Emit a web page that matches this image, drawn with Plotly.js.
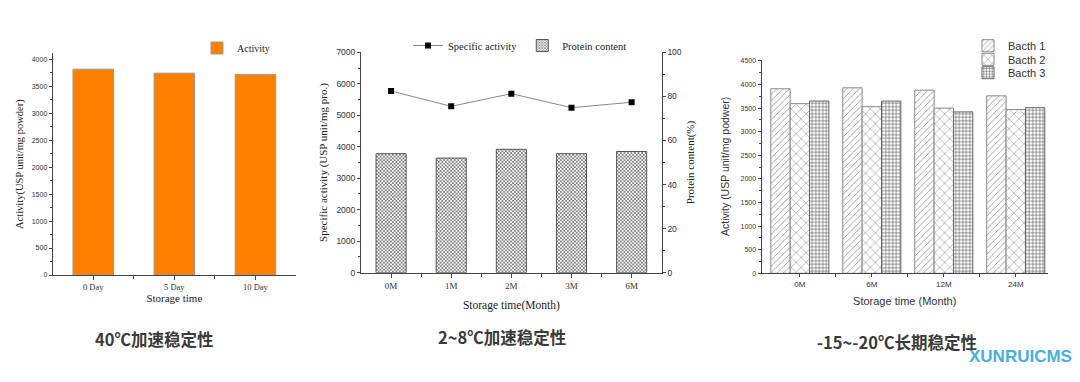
<!DOCTYPE html>
<html>
<head>
<meta charset="utf-8">
<script src="https://cdn.plot.ly/plotly-3.0.1.min.js"></script>
<style>html,body{margin:0;padding:0;background:#fff;}#chart{width:1080px;height:382px;}</style>
</head>
<body>
<div id="chart"></div>
<script>
// ---- Data ----
const days = ["0 Day", "5 Day", "10 Day"];
const activity40 = [3815, 3742, 3716];

const months2 = ["0M", "1M", "2M", "3M", "6M"];
const specificActivity = [5770, 5284, 5686, 5241, 5413];
const proteinContent = [54, 52, 56, 54, 55];

const months3 = ["0M", "6M", "12M", "24M"];
const bach1 = [3910, 3930, 3880, 3760];
const bach2 = [3595, 3530, 3500, 3470];
const bach3 = [3650, 3648, 3420, 3510];

const captions = ["40℃加速稳定性", "2~8℃加速稳定性", "-15~-20℃长期稳定性"];

// ---- Helpers ----
const W = 1080, H = 382;
const px = v => v / W;
const py = v => (H - v) / H;
const serif = "Liberation Serif, Times New Roman, serif";
const sans = "Liberation Sans, Arial, sans-serif";
const idx = a => a.map((_, i) => i);

const axisBase = {
  showline: true, linecolor: "#444", linewidth: 1, showgrid: false, zeroline: false,
  ticks: "outside", tickcolor: "#444", tickwidth: 1, automargin: false, fixedrange: true
};

const data = [
  {
    type: "bar", x: idx(days), y: activity40, name: "Activity", width: 0.5,
    xaxis: "x", yaxis: "y", legend: "legend",
    marker: {color: "#FF8000", line: {color: "#999", width: 1}}
  },
  {
    type: "scatter", mode: "lines+markers", x: idx(months2), y: specificActivity,
    name: "Specific activity", xaxis: "x2", yaxis: "y2", legend: "legend2", legendrank: 1,
    line: {color: "#888", width: 1}, marker: {symbol: "square", size: 6, color: "#000"}
  },
  {
    type: "bar", x: idx(months2), y: proteinContent, name: "Protein content", width: 0.5,
    xaxis: "x2", yaxis: "y3", legend: "legend2", legendrank: 2,
    marker: {color: "#fff", line: {color: "#555", width: 1},
      pattern: {shape: "x", size: 2.5, solidity: 0.5, fgcolor: "#666", bgcolor: "#fff"}}
  },
  {
    type: "bar", x: idx(months3), y: bach1, name: "Bacth 1",
    xaxis: "x3", yaxis: "y4", legend: "legend3",
    marker: {color: "#fff", line: {color: "#888", width: 1},
      pattern: {shape: "/", size: 4.5, solidity: 0.2, fgcolor: "#999", bgcolor: "#fff"}}
  },
  {
    type: "bar", x: idx(months3), y: bach2, name: "Bacth 2",
    xaxis: "x3", yaxis: "y4", legend: "legend4",
    marker: {color: "#fff", line: {color: "#888", width: 1},
      pattern: {shape: "x", size: 7, solidity: 0.15, fgcolor: "#888", bgcolor: "#fff"}}
  },
  {
    type: "bar", x: idx(months3), y: bach3, name: "Bacth 3",
    xaxis: "x3", yaxis: "y4", legend: "legend5",
    marker: {color: "#fff", line: {color: "#666", width: 1},
      pattern: {shape: "+", size: 3.5, solidity: 0.35, fgcolor: "#666", bgcolor: "#fff"}}
  }
];

const leg3 = (y) => ({
  x: px(968), y: py(y), xanchor: "left", yanchor: "middle",
  bgcolor: "rgba(0,0,0,0)", font: {family: sans, size: 11, color: "#333"},
  itemwidth: 30
});

const layout = {
  width: W, height: H,
  margin: {l: 0, r: 0, t: 0, b: 0},
  paper_bgcolor: "#fff", plot_bgcolor: "rgba(0,0,0,0)",
  barmode: "group", bargap: 0.193, bargroupgap: 0,
  showlegend: true,
  xaxis: Object.assign({}, axisBase, {
    domain: [px(52.7), px(296)], anchor: "y", range: [-0.5, 2.5],
    tickmode: "array", tickvals: idx(days), ticktext: days, ticklen: 4,
    minor: {tickvals: [0.5, 1.5], ticks: "outside", ticklen: 3, tickcolor: "#444"},
    tickfont: {family: serif, size: 8.5, color: "#333"},
    title: {text: "Storage time", font: {family: serif, size: 11, color: "#222"}, standoff: 1}
  }),
  yaxis: Object.assign({}, axisBase, {
    domain: [py(275), py(53.3)], anchor: "x", range: [0, 4110],
    tick0: 0, dtick: 500, ticklen: 3,
    minor: {dtick: 250, ticks: "outside", ticklen: 2, tickcolor: "#444"},
    tickfont: {family: sans, size: 7, color: "#333"},
    title: {text: "Activity(USP unit/mg powder)", font: {family: serif, size: 10.5, color: "#222"}, standoff: 6}
  }),
  xaxis2: Object.assign({}, axisBase, {
    domain: [px(361), px(661.7)], anchor: "y2", range: [-0.5, 4.5],
    tickmode: "array", tickvals: idx(months2), ticktext: months2, ticklen: 4,
    minor: {tickvals: [0.5, 1.5, 2.5, 3.5], ticks: "outside", ticklen: 3, tickcolor: "#444"},
    tickfont: {family: serif, size: 9, color: "#333"},
    title: {text: "Storage time(Month)", font: {family: serif, size: 11.5, color: "#222"}, standoff: 11}
  }),
  yaxis2: Object.assign({}, axisBase, {
    domain: [py(272.7), py(52.3)], anchor: "x2", range: [0, 7000],
    tick0: 0, dtick: 1000, ticklen: 3,
    minor: {dtick: 500, ticks: "outside", ticklen: 2, tickcolor: "#444"},
    tickfont: {family: sans, size: 8.5, color: "#333"},
    title: {text: "Specific activity (USP unit/mg pro.)", font: {family: serif, size: 11, color: "#222"}, standoff: 6}
  }),
  yaxis3: Object.assign({}, axisBase, {
    overlaying: "y2", side: "right", anchor: "x2", range: [0, 100],
    tick0: 0, dtick: 20, ticklen: 3,
    minor: {dtick: 10, ticks: "outside", ticklen: 2, tickcolor: "#444"},
    tickfont: {family: sans, size: 8.5, color: "#333"},
    title: {text: "Protein content(%)", font: {family: serif, size: 11, color: "#222"}, standoff: 5}
  }),
  xaxis3: Object.assign({}, axisBase, {
    domain: [px(761.5), px(1048)], anchor: "y4", range: [-0.533, 3.448],
    tickmode: "array", tickvals: idx(months3), ticktext: months3, ticklen: 3,
    minor: {tickvals: [0.5, 1.5, 2.5], ticks: "outside", ticklen: 3, tickcolor: "#444"},
    tickfont: {family: sans, size: 8, color: "#333"},
    title: {text: "Storage time (Month)", font: {family: sans, size: 11, color: "#333"}, standoff: 9}
  }),
  yaxis4: Object.assign({}, axisBase, {
    domain: [py(273.3), py(59.5)], anchor: "x3", range: [0, 4530],
    tick0: 0, dtick: 500, ticklen: 3,
    minor: {dtick: 250, ticks: "outside", ticklen: 2, tickcolor: "#444"},
    tickfont: {family: sans, size: 7, color: "#333"},
    title: {text: "Activity (USP unit/mg podwer)", font: {family: sans, size: 10.5, color: "#333"}, standoff: 8}
  }),
  legend: {
    x: px(197), y: py(48), xanchor: "left", yanchor: "middle",
    bgcolor: "rgba(0,0,0,0)", font: {family: serif, size: 10, color: "#222"},
    itemwidth: 30
  },
  legend2: {
    x: px(408), y: py(45.5), xanchor: "left", yanchor: "middle", orientation: "h",
    bgcolor: "rgba(0,0,0,0)", font: {family: serif, size: 10.5, color: "#222"},
    itemwidth: 30
  },
  legend3: leg3(45.7),
  legend4: leg3(59.3),
  legend5: leg3(72.7),
  annotations: [
    {text: captions[0], x: px(93), y: py(339), xref: "paper", yref: "paper", xanchor: "left", yanchor: "middle",
     showarrow: false, font: {family: "Noto Sans CJK SC", size: 16.5, weight: "bold", color: "#3a3a3a"}},
    {text: captions[1], x: px(436), y: py(337), xref: "paper", yref: "paper", xanchor: "left", yanchor: "middle",
     showarrow: false, font: {family: "Noto Sans CJK SC", size: 16.5, weight: "bold", color: "#3a3a3a"}},
    {text: captions[2], x: px(815), y: py(342), xref: "paper", yref: "paper", xanchor: "left", yanchor: "middle",
     showarrow: false, font: {family: "Noto Sans CJK SC", size: 16.5, weight: "bold", color: "#3a3a3a"}},
    {text: "XUNRUICMS", x: px(1020), y: py(356), xref: "paper", yref: "paper", xanchor: "center", yanchor: "middle",
     showarrow: false, font: {family: "Liberation Sans Narrow, Liberation Sans", size: 17, weight: "bold", color: "#4aaee0"}}
  ]
};

Plotly.newPlot("chart", data, layout, {displayModeBar: false, staticPlot: true});
</script>
</body>
</html>
